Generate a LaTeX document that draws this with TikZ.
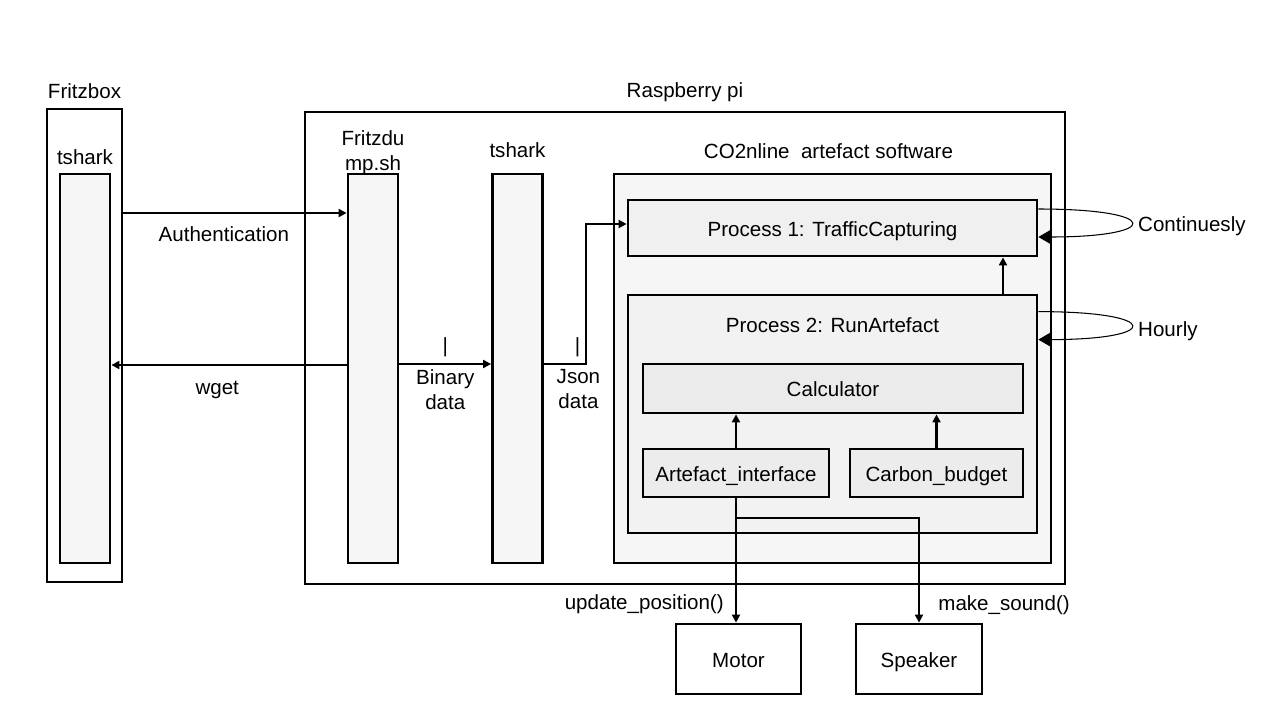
\documentclass[tikz,border=0pt]{standalone}
\usepackage{fontspec}
\setmainfont{Liberation Sans}
\usetikzlibrary{arrows.meta,positioning}

\begin{document}
\begin{tikzpicture}
        [
            x = 0.02cm, y = -0.02cm,
            > = {Triangle[length=4.5pt,width=4.5pt]},
            font = \fontsize{11.7}{14}\selectfont,
            box/.style = {draw, rectangle, line width=1.6pt, text height=9.4pt, text depth=0pt},
            bar/.style = {box, fill=gray!7, minimum width=1cm, minimum height=7.78cm},
            unit/.style = {box, fill=gray!15, minimum height=0.96cm},
            map/.style = {align=center},
            flow/.style = {->, line width=1.6pt},
            cycle/.style = {-{Triangle[length=7pt,width=8pt]}, line width=0.6pt}
        ]
        \useasboundingbox (0,0) rectangle (1280,720);
        % outer boxes
        \node [box, minimum width=1.5cm, minimum height=9.46cm] (Fritzbox) at (84.5,345.5) {};
        \node [box, minimum width=15.2cm, minimum height=9.44cm] (Raspberry) at (685,348) {};
        \node [above=1.8pt of Fritzbox] (FritzboxTitle) {Fritzbox};
        \node [above=1.8pt of Raspberry] (RaspberryTitle) {Raspberry pi};
        % lifelines
        \node [bar] (FritzShark) at (85,368.5) {};
        \node [bar] (DumpBar) at (373,368.5) {};
        \node [bar] (SharkBar) at (517.5,368.5) {};
        \node [above=0.7pt of FritzShark] (FritzSharkTitle) {tshark};
        \node [map, above=-4.8pt of DumpBar] (DumpTitle) {Fritzdu\\mp.sh};
        \node [above=5pt of SharkBar] (SharkTitle) {tshark};
        % artefact software
        \node [box, fill=gray!7, minimum width=8.74cm, minimum height=7.78cm] (Software) at (832.5,368.5) {};
        \node [above=4.5pt of Software, xshift=-0.08cm] (SoftwareTitle) {CO2nline\ \ artefact software};
        \node [box, fill=gray!12, minimum width=8.18cm, minimum height=1.12cm] (Capture) at (832.5,228) {Process 1: TrafficCapturing};
        \node [box, fill=gray!10, minimum width=8.18cm, minimum height=4.76cm] (Run) at (832.5,414) {};
        \node [below=10.2pt of Run.north] (RunTitle) {Process 2: RunArtefact};
        \node [unit, fill=gray!16, minimum width=7.6cm, minimum height=0.98cm] (Calculator) at (833,388.5) {Calculator};
        \node [unit, minimum width=3.72cm] (Interface) at (736,473) {Artefact\_interface};
        \node [unit, minimum width=3.46cm] (Budget) at (936.5,473) {Carbon\_budget};
        % devices
        \node [box, minimum width=2.5cm, minimum height=1.4cm] (Motor) at (738.5,659) {Motor};
        \node [box, minimum width=2.52cm, minimum height=1.4cm] (Speaker) at (919,659) {Speaker};
        \node [right] (ContLabel) at (1132,226) {Continuesly};
        \node [right] (HourLabel) at (1132,331) {Hourly};
        \coordinate (JsonBend) at (586,364);
        % connectors
        \draw [flow] (Fritzbox.east |- 0,213) -- node [pos=0.45, below=3.4pt] {Authentication} (DumpBar.west |- 0,213);
        \draw [flow] (DumpBar.west |- 0,365) -- node [pos=0.55, below=5pt] {wget} (FritzShark.east |- 0,365);
        \draw [flow] (DumpBar.east |- JsonBend) -- node [above] {|} node [map, below=-1pt] {Binary\\data} (SharkBar.west |- JsonBend);
        \draw [flow] (SharkBar.east |- JsonBend) -- node [above, xshift=0.25cm] {|} node [map, below=-1pt, xshift=0.27cm] {Json\\data} (JsonBend) |- ([yshift=0.08cm]Capture.west);
        \draw [flow] (Run.north -| 1003,0) -- (Capture.south -| 1003,0);
        \draw [flow] (Interface.north) -- (Interface.north |- Calculator.south);
        \draw [flow] (Budget.north) -- (Budget.north |- Calculator.south);
        \draw [flow] (Interface.south) -- node [pos=0.85, left=2.9pt] {update\_position()} (Interface.south |- Motor.north);
        \draw [flow] (Interface.south |- 0,518) -| node [pos=0.915, right=6.9pt] {make\_sound()} (Speaker.north);
        \draw [cycle] ([yshift=0.38cm]Capture.east) .. controls +(124,0) and +(124,0) .. ([yshift=-0.18cm]Capture.east);
        \draw [cycle] ([yshift=-0.36cm]Run.north east) .. controls +(124,0) and +(124,0) .. ([yshift=-0.92cm]Run.north east);
    \end{tikzpicture}
\end{document}
